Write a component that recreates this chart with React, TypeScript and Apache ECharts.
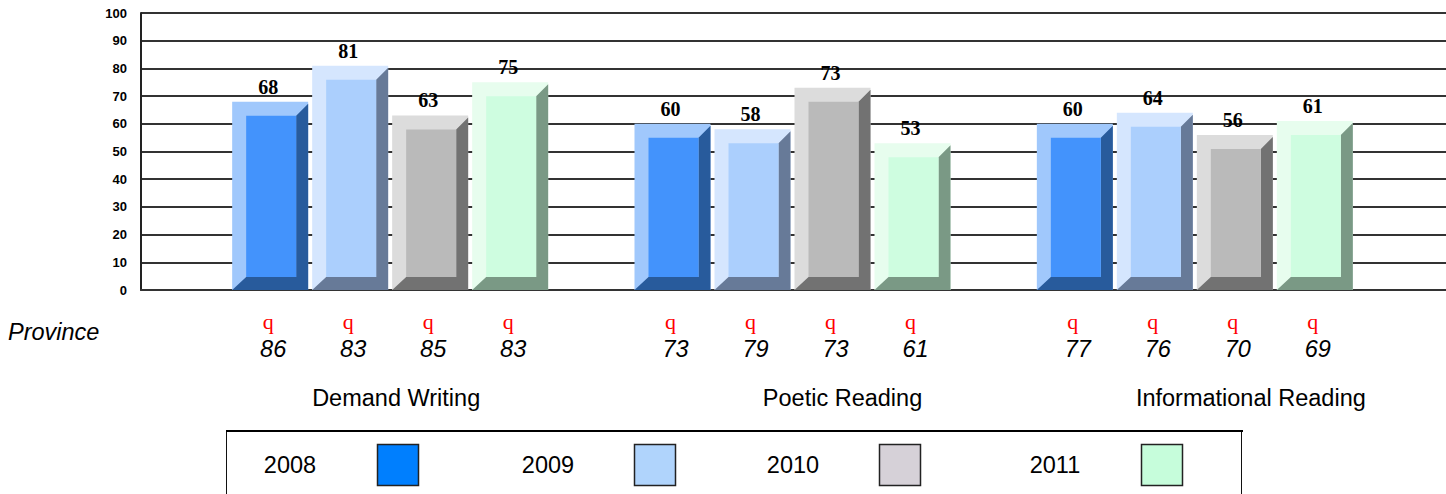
import React, { useEffect, useRef } from "react";
import * as echarts from "echarts";

// ---------- data ----------
const categories = ["Demand Writing", "Poetic Reading", "Informational Reading"];
const years = ["2008", "2009", "2010", "2011"];
const scores2008 = [68, 60, 60];
const scores2009 = [81, 58, 64];
const scores2010 = [63, 73, 56];
const scores2011 = [75, 53, 61];
const province2008 = [86, 73, 77];
const province2009 = [83, 79, 76];
const province2010 = [85, 73, 70];
const province2011 = [83, 61, 69];
const provinceLabel = "Province";
const provinceMarker = "q";
const yMin = 0;
const yMax = 100;
const yInterval = 10;

const scoresByYear = [scores2008, scores2009, scores2010, scores2011];
const provinceByYear = [province2008, province2009, province2010, province2011];

// ---------- styles ----------
const BAR_STYLES = [
  { light: "#a0c8fc", face: "#4393fc", dark: "#285b9c" },
  { light: "#d5e6fe", face: "#abcffd", dark: "#677a98" },
  { light: "#dcdcdc", face: "#bababa", dark: "#727272" },
  { light: "#e7fdee", face: "#cefde0", dark: "#7a9985" },
];
const LEGEND_COLORS = ["#007ffe", "#b0d4fc", "#d6d1d8", "#c6fddb"];
const LEGEND_TEXT_X = [290, 548, 793, 1055];
const LEGEND_BOX_X = [377, 634, 879, 1141];
const CAT_LABEL_DX = [6, 50, 56];
const REF_BAND = 402.33;
const SANS = "'Liberation Sans', Arial, sans-serif";
const SERIF = "'Liberation Serif', 'Times New Roman', serif";

function makeYearSeries(k: number) {
  const st = BAR_STYLES[k];
  const data = categories.map((_, i) => [i, scoresByYear[k][i], provinceByYear[k][i]]);
  return {
    type: "custom",
    name: years[k],
    xAxisIndex: 1,
    yAxisIndex: 1,
    clip: false,
    z: 5,
    data,
    renderItem: (params: any, api: any) => {
      const ci = api.value(0);
      const v = api.value(1);
      const pv = api.value(2);
      const base = api.coord([ci, 0]);
      const top = api.coord([ci, v]);
      const band = api.size([1, 0])[0];
      const s = band / REF_BAND;
      const cx = base[0] + (k - 1.5) * 80 * s;
      const w = 76 * s;
      const x0 = cx - w / 2;
      const x1 = cx + w / 2;
      const y0 = top[1];
      const y1 = base[1];
      const L = 14, T = 14, R = 12, B = 13;
      return {
        type: "group",
        children: [
          { type: "rect", shape: { x: x0, y: y0, width: w, height: y1 - y0 }, style: { fill: st.light } },
          {
            type: "polygon",
            shape: {
              points: [
                [x1 - R, y0 + T],
                [x1, y0 + 2],
                [x1, y1],
                [x0, y1],
                [x0 + L, y1 - B],
                [x1 - R, y1 - B],
              ],
            },
            style: { fill: st.dark },
          },
          {
            type: "rect",
            shape: { x: x0 + L, y: y0 + T, width: w - L - R, height: y1 - B - (y0 + T) },
            style: { fill: st.face },
          },
          {
            type: "text",
            x: cx - 2,
            y: y0 - 15,
            style: {
              text: String(v),
              fill: "#000",
              font: `bold 20px ${SERIF}`,
              textAlign: "center",
              textVerticalAlign: "middle",
            },
          },
          {
            type: "text",
            x: cx - 2,
            y: y1 + 31,
            style: {
              text: provinceMarker,
              fill: "#ff0000",
              font: `22px ${SERIF}`,
              textAlign: "center",
              textVerticalAlign: "middle",
            },
          },
          {
            type: "text",
            x: cx + 3,
            y: y1 + 59,
            style: {
              text: String(pv),
              fill: "#000",
              font: `italic 23.5px ${SANS}`,
              textAlign: "center",
              textVerticalAlign: "middle",
            },
          },
        ],
      };
    },
  };
}

const categoryLabelSeries = {
  type: "custom",
  name: "categories",
  xAxisIndex: 1,
  yAxisIndex: 1,
  clip: false,
  z: 5,
  data: categories.map((_, i) => [i, 0]),
  renderItem: (params: any, api: any) => {
    const ci = api.value(0);
    const base = api.coord([ci, 0]);
    const band = api.size([1, 0])[0];
    const s = band / REF_BAND;
    return {
      type: "text",
      x: base[0] + CAT_LABEL_DX[ci] * s,
      y: base[1] + 108,
      style: {
        text: categories[ci],
        fill: "#000",
        font: `23.5px ${SANS}`,
        textAlign: "center",
        textVerticalAlign: "middle",
      },
    };
  },
};

export default function App() {
  const ref = useRef<HTMLDivElement>(null);
  useEffect(() => {
    if (!ref.current) return;
    const chart = echarts.init(ref.current, null, { renderer: "svg" });
    const legendGraphics: any[] = [
      {
        type: "rect",
        shape: { x: 226.5, y: 431.5, width: 1015, height: 80 },
        style: { fill: "#fff", stroke: "#111", lineWidth: 1 },
      },
      {
        type: "line",
        shape: { x1: 226, y1: 431, x2: 1243, y2: 431 },
        style: { stroke: "#000", lineWidth: 2 },
      },
    ];
    years.forEach((y, k) => {
      legendGraphics.push({
        type: "text",
        x: LEGEND_TEXT_X[k],
        y: 465,
        style: {
          text: y,
          fill: "#000",
          font: `23.5px ${SANS}`,
          textAlign: "center",
          textVerticalAlign: "middle",
        },
      });
      legendGraphics.push({
        type: "rect",
        shape: { x: LEGEND_BOX_X[k] + 0.5, y: 444.5, width: 41, height: 41 },
        style: { fill: LEGEND_COLORS[k], stroke: "#222", lineWidth: 1.5 },
      });
    });
    chart.setOption({
      animation: false,
      backgroundColor: "#fff",
      grid: [
        { left: 141, right: 0, top: 13, bottom: 204 },
        { left: 189, right: 50, top: 13, bottom: 204 },
      ],
      xAxis: [
        {
          gridIndex: 0,
          type: "value",
          min: 0,
          max: 1,
          axisLine: { show: true, lineStyle: { color: "#333", width: 2 } },
          axisTick: { show: false },
          axisLabel: { show: false },
          splitLine: { show: false },
        },
        {
          gridIndex: 1,
          type: "category",
          data: categories,
          show: false,
        },
      ],
      yAxis: [
        {
          gridIndex: 0,
          type: "value",
          min: yMin,
          max: yMax,
          interval: yInterval,
          axisLine: { show: true, lineStyle: { color: "#222", width: 2 } },
          axisTick: { show: false },
          axisLabel: {
            color: "#000",
            fontSize: 13,
            fontWeight: "bold",
            fontFamily: SANS,
            margin: 14,
          },
          splitLine: { show: true, lineStyle: { color: "#333", width: 2 } },
        },
        {
          gridIndex: 1,
          type: "value",
          min: yMin,
          max: yMax,
          show: false,
        },
      ],
      graphic: [
        {
          type: "text",
          x: 8,
          y: 332,
          style: {
            text: provinceLabel,
            fill: "#000",
            font: `italic 23.5px ${SANS}`,
            textAlign: "left",
            textVerticalAlign: "middle",
          },
        },
        ...legendGraphics,
      ],
      series: [0, 1, 2, 3].map((k) => makeYearSeries(k)).concat([categoryLabelSeries as any]),
    });
    return () => chart.dispose();
  }, []);
  return (
    <div
      ref={ref}
      style={{ position: "absolute", left: 0, top: 0, width: 1446, height: 494 }}
    />
  );
}
